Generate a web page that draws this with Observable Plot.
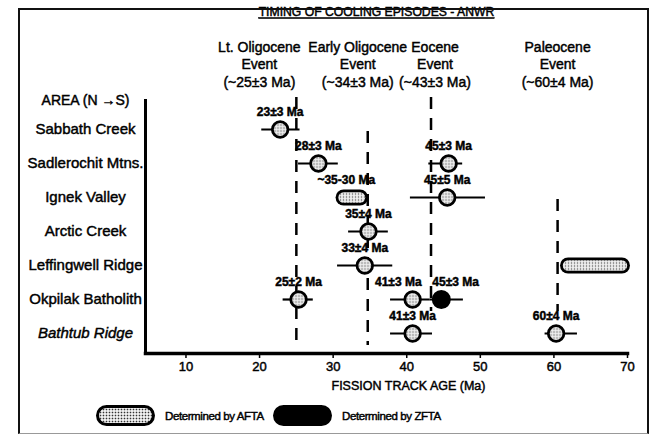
<!DOCTYPE html>
<html><head><meta charset="utf-8">
<script src="https://cdn.jsdelivr.net/npm/d3@7"></script>
<script src="https://cdn.jsdelivr.net/npm/@observablehq/plot@0.6"></script>
<style>
body{margin:0;background:#fff;font-family:"Liberation Sans",Arial,Helvetica,sans-serif;}
#wrap{position:relative;width:657px;height:436px;overflow:hidden;background:#fff;}
#border{position:absolute;left:18px;top:8px;width:631px;height:426px;border:2px solid #111;border-bottom:1px solid #999;box-sizing:border-box;}
#chart{position:absolute;left:0;top:0;}
#chart text{stroke:#000;stroke-width:0.45px;}
.lg{position:absolute;top:405px;height:21px;display:flex;align-items:center;font-size:11.5px;letter-spacing:-0.4px;-webkit-text-stroke:0.45px #000;}
.pill{position:absolute;top:405px;width:59px;height:21px;border:3px solid #000;border-radius:11px;box-sizing:border-box;}
.afta{background-color:#eee;background-image:radial-gradient(circle,#333 0.7px,transparent 1.1px);background-size:3px 3px;}
.zfta{background:#000;}
</style></head>
<body>
<svg width="0" height="0" style="position:absolute"><defs>
<pattern id="dots" width="3" height="3" patternUnits="userSpaceOnUse"><rect width="3" height="3" fill="#eeeeee"/><circle cx="1.5" cy="1.5" r="0.75" fill="#555"/></pattern>
</defs></svg>
<div id="wrap">
  <div id="chart"></div>
  <div id="border"></div>
  <div class="pill afta" style="left:96px"></div>
  <div class="lg" style="left:165px">Determined by AFTA</div>
  <div class="pill zfta" style="left:273px"></div>
  <div class="lg" style="left:342px">Determined by ZFTA</div>
</div>
<script>
// ---- data ----
const areas = ["Sabbath Creek","Sadlerochit Mtns.","Ignek Valley","Arctic Creek","Leffingwell Ridge","Okpilak Batholith","Bathtub Ridge"];
const tickValues = [10,20,30,40,50,60,70];

const eventName = ["Lt. Oligocene","Early Oligocene","Eocene","Paleocene"];
const eventAge  = [25, 34.7, 43.3, 60.5];
const eventErr  = ["~25±3 Ma","~34±3 Ma","~43±3 Ma","~60±4 Ma"];
const eventTop  = ["Sabbath Creek","Sadlerochit Mtns.","Sabbath Creek","Arctic Creek"];
const eventBottom = ["Bathtub Ridge","Bathtub Ridge","Okpilak Batholith","Okpilak Batholith"];

const ptArea   = ["Sabbath Creek","Sadlerochit Mtns.","Sadlerochit Mtns.","Ignek Valley","Arctic Creek","Leffingwell Ridge","Okpilak Batholith","Okpilak Batholith","Okpilak Batholith","Bathtub Ridge","Bathtub Ridge"];
const ptAge    = [22.8, 28.0, 45.7, 45.5, 34.8, 34.3, 25.3, 40.8, 44.7, 40.8, 60.3];
const ptLo     = [20.3, 25.3, 43.0, 40.5, 32.1, 30.6, 23.2, 37.8, 43.2, 37.8, 58.8];
const ptHi     = [25.5, 30.7, 47.6, 50.7, 37.5, 38.1, 27.3, 43.2, 47.7, 43.5, 63.2];
const ptMethod = ["AFTA","AFTA","AFTA","AFTA","AFTA","AFTA","AFTA","AFTA","ZFTA","AFTA","AFTA"];
const ptLabel  = ["23±3 Ma","28±3 Ma","45±3 Ma","45±5 Ma","35±4 Ma","33±4 Ma","25±2 Ma","41±3 Ma","45±3 Ma","41±3 Ma","60±4 Ma"];

const rangeArea  = ["Ignek Valley","Leffingwell Ridge"];
const rangeLo    = [30.4, 60.9];
const rangeHi    = [34.8, 70.4];
const rangeLabel = ["~35-30 Ma", ""];

const titleText = "TIMING OF COOLING EPISODES - ANWR";
const areaHeader = "AREA (N →S)";
const xLabel = "FISSION TRACK AGE (Ma)";

// ---- tables ----
const pts = ptArea.map((a,i)=>({i, area:a, age:ptAge[i], lo:ptLo[i], hi:ptHi[i], method:ptMethod[i], label:ptLabel[i]}));
const ranges = rangeArea.map((a,i)=>({area:a, lo:rangeLo[i], hi:rangeHi[i], label:rangeLabel[i]}));
const events = eventName.map((n,i)=>({name:n, age:eventAge[i], err:eventErr[i], top:eventTop[i], bottom:eventBottom[i]}));

const labelShift = [-37, -10, 4, 0];
const special = {7:{textAnchor:"end", dx:9}, 8:{textAnchor:"start", dx:-9}};

const marks = [
  Plot.frame({anchor:"left", strokeWidth:3}),
  Plot.frame({anchor:"bottom", strokeWidth:3.5}),
  Plot.axisX({ticks:tickValues, tickSize:5, tickPadding:3, fontSize:13, tickFormat:d=>String(d), strokeWidth:1.5}),
  Plot.ruleX(events, {x:"age", y1:"top", y2:"bottom", insetTop:-32, insetBottom:-12, strokeWidth:2.5, strokeDasharray:"12,9"}),
  Plot.ruleY(pts, {y:"area", x1:"lo", x2:"hi", strokeWidth:2.2}),
  Plot.ruleY(ranges, {y:"area", x1:"lo", x2:"hi", strokeWidth:16, strokeLinecap:"round", insetLeft:8, insetRight:8}),
  Plot.ruleY(ranges, {y:"area", x1:"lo", x2:"hi", strokeWidth:10.5, stroke:"url(#dots)", strokeLinecap:"round", insetLeft:8, insetRight:8}),
  Plot.dot(pts.filter(d=>d.method==="AFTA"), {x:"age", y:"area", r:7.8, stroke:"black", strokeWidth:2.8, fill:"url(#dots)"}),
  Plot.dot(pts.filter(d=>d.method==="ZFTA"), {x:"age", y:"area", r:8.5, stroke:"black", strokeWidth:2, fill:"black"}),
  Plot.text(pts.filter(d=>!special[d.i]), {x:"age", y:"area", text:"label", dy:-17, fontWeight:"bold", fontSize:12}),
  ...Object.keys(special).map(k=>Plot.text(pts.filter(d=>d.i===+k), {x:"age", y:"area", text:"label", dy:-17, fontWeight:"bold", fontSize:12, ...special[k]})),
  Plot.text(ranges.filter(d=>d.label), {x:d=>(d.lo+d.hi)/2, y:"area", text:"label", dy:-17, dx:-6, fontWeight:"bold", fontSize:12}),
  Plot.text(areas, {y:d=>d, text:d=>d, frameAnchor:"left", dx:-60, textAnchor:"middle", fontSize:15}),
  Plot.text([areaHeader], {frameAnchor:"top-left", dx:-60, textAnchor:"middle", lineAnchor:"middle", fontSize:14}),
  Plot.text([titleText], {frameAnchor:"top", dy:-88, dx:-10, lineAnchor:"middle", fontSize:12.2}),
  ...events.map((e,i)=>Plot.text([e], {x:"age", frameAnchor:"top", text:d=>`${d.name}\nEvent\n(${d.err})`, dy:-37, dx:labelShift[i], lineAnchor:"middle", lineHeight:1.25, fontSize:14})),
  Plot.text([xLabel], {frameAnchor:"bottom", dy:32, dx:22, lineAnchor:"middle", fontSize:12.5})
];

const svg = Plot.plot({
  width:657, height:396,
  marginLeft:145, marginRight:30, marginTop:100, marginBottom:43,
  x:{domain:[4.5,70]},
  y:{type:"point", domain:areas, axis:null, padding:0, insetTop:29, insetBottom:20},
  style:{fontFamily:'"Liberation Sans", Arial, Helvetica, sans-serif', color:"black", background:"transparent"},
  marks
});
document.getElementById("chart").appendChild(svg);
d3.select(svg).selectAll("text").each(function(){
  const t = this.textContent;
  if (t === titleText) d3.select(this).attr("text-decoration","underline");
  if (t === "Bathtub Ridge") d3.select(this).attr("font-style","italic");
});
</script>
</body></html>
